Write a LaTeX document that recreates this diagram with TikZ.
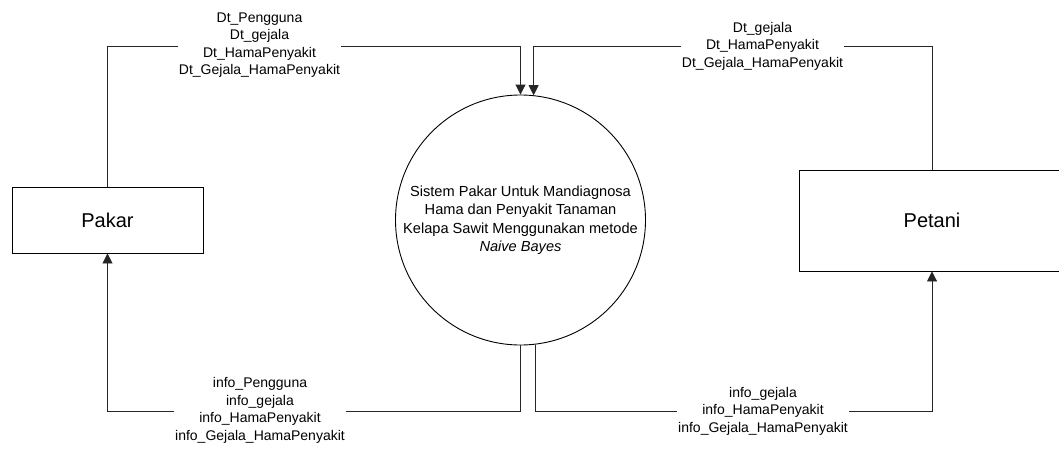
\documentclass[tikz,border=0pt]{standalone}
\usepackage{fontspec}
\setmainfont{Liberation Sans}
\usetikzlibrary{arrows.meta}
\begin{document}
\begin{tikzpicture}[x=1pt,y=-1pt,
  entity/.style={draw=black,line width=0.9pt,fill=white,inner sep=0pt,font=\fontsize{20}{24}\selectfont},
  proc/.style={draw=black,line width=0.9pt,circle,inner sep=0pt,minimum size=250pt,align=center,font=\fontsize{14.6}{18.5}\selectfont},
  flow/.style={draw=black!85,line width=0.9pt,-{Triangle[width=10pt,length=10pt]}},
  lbl/.style={fill=white,inner xsep=1pt,inner ysep=0pt,align=center,font=\fontsize{14}{17.5}\selectfont}]
\useasboundingbox (0,0) rectangle (1059,448);
\fill[white] (0,0) rectangle (1059,448);
\node[entity,minimum width=191pt,minimum height=66pt] (pakar) at (107.5,220) {Pakar};
\node[entity,minimum width=266pt,minimum height=101pt] (petani) at (932,220.5) {Petani};
\node[proc] (sys) at (520.5,220) {Sistem Pakar Untuk Mandiagnosa\\Hama dan Penyakit Tanaman\\Kelapa Sawit Menggunakan metode\\\textit{Naive Bayes}};
\coordinate (ty) at (0,46);
\coordinate (by) at (0,411);
\draw[flow] (pakar.north) |- (sys.north |- ty) -- (sys.north);
\draw[flow] (petani.north) |- (sys.84.5 |- ty) -- (sys.84.5);
\draw[flow] (sys.south) |- (pakar.south |- by) -- (pakar.south);
\draw[flow] (sys.-83.3) |- (petani.south |- by) -- (petani.south);
\node[lbl] (l1) at (259.5,45) {Dt\_Pengguna\\Dt\_gejala\\Dt\_HamaPenyakit\\Dt\_Gejala\_HamaPenyakit};
\node[lbl] (l2) at (762.5,46) {Dt\_gejala\\Dt\_HamaPenyakit\\Dt\_Gejala\_HamaPenyakit};
\node[lbl] (l3) at (260,410.5) {info\_Pengguna\\info\_gejala\\info\_HamaPenyakit\\info\_Gejala\_HamaPenyakit};
\node[lbl] (l4) at (763,411) {info\_gejala\\info\_HamaPenyakit\\info\_Gejala\_HamaPenyakit};
\end{tikzpicture}
\end{document}
